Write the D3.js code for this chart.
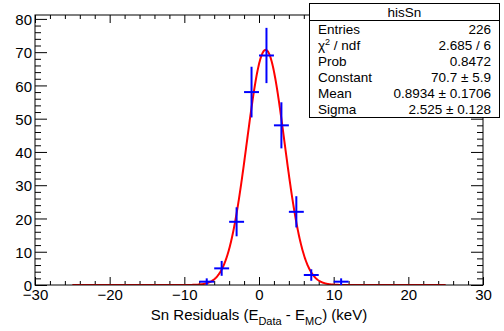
<!DOCTYPE html>
<html>
<head>
<meta charset="utf-8">
<script src="https://cdn.jsdelivr.net/npm/d3@7"></script>
<style>
  html, body { margin: 0; padding: 0; background: #fff; }
  svg { display: block; font-family: "Liberation Sans", Arial, Helvetica, sans-serif; }
</style>
</head>
<body>
<svg id="chart" width="504" height="331"></svg>
<script>
// Histogram hisSn: Sn residuals, 2 keV bins
const binCenters = [-7, -5, -3, -1, 1, 3, 5, 7, 11];
const binCounts  = [1, 5, 19, 58, 69, 48, 22, 3, 1];
const binWidth = 2;

// Gaussian fit result
const fitConstant = 70.7;
const fitMean = 0.8934;
const fitSigma = 2.525;
const fitRange = [-25, 25];

// Axis ticks
const xMajorTicks = [-30, -20, -10, 0, 10, 20, 30];
const yMajorTicks = [0, 10, 20, 30, 40, 50, 60, 70, 80];

// Statistics box rows
const statsTitle = "hisSn";
const statsNames  = ["Entries", "χ2 / ndf", "Prob", "Constant", "Mean", "Sigma"];
const statsValues = ["226", "2.685 / 6", "0.8472", "70.7 ± 5.9", "0.8934 ± 0.1706", "2.525 ± 0.128"];

const svg = d3.select("#chart");
const frame = { left: 35, right: 483, top: 15, bottom: 285 };

// y range: highest bin plus its error, with 5% headroom
const yMax = d3.max(binCounts, n => n + Math.sqrt(n)) * 1.05;

const x = d3.scaleLinear().domain([-30, 30]).range([frame.left, frame.right]);
const y = d3.scaleLinear().domain([0, yMax]).range([frame.bottom, frame.top]);

const xMinorTicks = d3.range(-30, 30.001, 2).filter(v => !xMajorTicks.includes(v));
const yMinorTicks = d3.range(0, yMax, 2).filter(v => !yMajorTicks.includes(v));

// Axes with inward ticks on all four sides
function drawAxis(axisFn, scale, translate, majors, minors, majorLen, minorLen, labels) {
  const gMinor = svg.append("g").attr("transform", translate)
    .call(axisFn(scale).tickValues(minors).tickSize(-minorLen).tickFormat(""));
  const gMajor = svg.append("g").attr("transform", translate)
    .call(axisFn(scale).tickValues(majors).tickSize(-majorLen).tickPadding(majorLen + 3)
      .tickFormat(labels ? d3.format("d") : ""));
  [gMinor, gMajor].forEach(g => {
    g.select(".domain").remove();
    g.selectAll(".tick line").attr("stroke", "#000").attr("stroke-width", 1);
  });
  gMajor.selectAll(".tick text")
    .attr("fill", "#000")
    .attr("font-size", 15)
    .attr("font-family", "Liberation Sans, Arial, sans-serif");
  return gMajor;
}

const xAxisBottom = drawAxis(d3.axisBottom, x, `translate(0,${frame.bottom})`, xMajorTicks, xMinorTicks, 8, 4, true);
xAxisBottom.selectAll(".tick text").attr("dy", "0.71em").attr("y", 4);
drawAxis(d3.axisTop, x, `translate(0,${frame.top})`, xMajorTicks, xMinorTicks, 8, 4, false);
const yAxisLeft = drawAxis(d3.axisLeft, y, `translate(${frame.left},0)`, yMajorTicks, yMinorTicks, 12, 6, true);
yAxisLeft.selectAll(".tick text").attr("x", -3).attr("dy", "0.38em");
drawAxis(d3.axisRight, y, `translate(${frame.right},0)`, yMajorTicks, yMinorTicks, 12, 6, false);

// Fit curve (clipped to the frame)
svg.append("clipPath").attr("id", "frameClip")
  .append("rect")
  .attr("x", frame.left).attr("y", frame.top)
  .attr("width", frame.right - frame.left).attr("height", frame.bottom - frame.top);

const gauss = v => fitConstant * Math.exp(-0.5 * Math.pow((v - fitMean) / fitSigma, 2));
const curveXs = d3.range(fitRange[0], fitRange[1] + 0.0001, 0.05);
svg.append("path")
  .attr("clip-path", "url(#frameClip)")
  .attr("d", d3.line().x(v => x(v)).y(v => y(gauss(v)))(curveXs))
  .attr("fill", "none")
  .attr("stroke", "#ff0000")
  .attr("stroke-width", 2);

// Frame
svg.append("rect")
  .attr("x", frame.left).attr("y", frame.top)
  .attr("width", frame.right - frame.left).attr("height", frame.bottom - frame.top)
  .attr("fill", "none").attr("stroke", "#000").attr("stroke-width", 1);

// Data points: horizontal bin width bars and sqrt(N) vertical errors
const pts = binCenters.map((c, i) => ({ c, n: binCounts[i] }));
const gPts = svg.append("g").attr("clip-path", "url(#frameClip)")
  .attr("stroke", "#0000ff").attr("stroke-width", 2);
gPts.selectAll("line.h").data(pts).join("line").attr("class", "h")
  .attr("x1", d => x(d.c - binWidth / 2)).attr("x2", d => x(d.c + binWidth / 2))
  .attr("y1", d => y(d.n)).attr("y2", d => y(d.n));
gPts.selectAll("line.v").data(pts).join("line").attr("class", "v")
  .attr("x1", d => x(d.c)).attr("x2", d => x(d.c))
  .attr("y1", d => y(d.n - Math.sqrt(d.n))).attr("y2", d => y(d.n + Math.sqrt(d.n)));

// x axis title with subscripts
const xTitle = svg.append("text")
  .attr("x", (frame.left + frame.right) / 2)
  .attr("y", 320)
  .attr("text-anchor", "middle")
  .attr("font-size", 15)
  .attr("fill", "#000");
xTitle.append("tspan").text("Sn Residuals (E");
xTitle.append("tspan").attr("font-size", 11).attr("dy", 5).text("Data");
xTitle.append("tspan").attr("dy", -5).text(" - E");
xTitle.append("tspan").attr("font-size", 11).attr("dy", 5).text("MC");
xTitle.append("tspan").attr("dy", -5).text(") (keV)");

// Statistics box
const box = { left: 309.5, top: 3.5, right: 499.5, bottom: 117.5, sep: 20.5 };
const gStats = svg.append("g");
gStats.append("rect")
  .attr("x", box.left).attr("y", box.top)
  .attr("width", box.right - box.left).attr("height", box.bottom - box.top)
  .attr("fill", "#fff").attr("stroke", "#000").attr("stroke-width", 1);
gStats.append("line")
  .attr("x1", box.left).attr("x2", box.right)
  .attr("y1", box.sep).attr("y2", box.sep)
  .attr("stroke", "#000");
gStats.append("text")
  .attr("x", (box.left + box.right) / 2).attr("y", 17)
  .attr("text-anchor", "middle").attr("font-size", 13.5).attr("fill", "#000")
  .text(statsTitle);

const rowY = d3.scaleLinear().domain([0, 1]).range([34, 50]);
statsNames.forEach((name, i) => {
  const t = gStats.append("text")
    .attr("x", 318).attr("y", rowY(i))
    .attr("font-size", 13.5).attr("fill", "#000");
  if (name.startsWith("χ2")) {
    t.append("tspan").text("χ");
    t.append("tspan").attr("font-size", 9).attr("dy", -5).text("2");
    t.append("tspan").attr("dy", 5).text(name.slice(2));
  } else {
    t.text(name);
  }
  gStats.append("text")
    .attr("x", 491).attr("y", rowY(i))
    .attr("text-anchor", "end").attr("font-size", 13.5).attr("fill", "#000")
    .text(statsValues[i]);
});
</script>
</body>
</html>
